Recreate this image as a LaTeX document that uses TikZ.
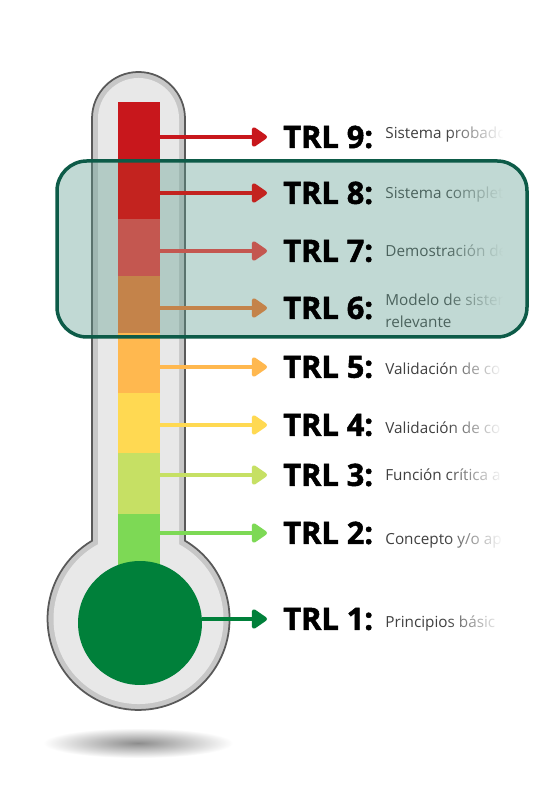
\documentclass[tikz,border=0pt]{standalone}
\usepackage{fontspec}
\setmainfont{Open Sans}
\newfontfamily\gruesa[BoldFeatures={FakeBold=1.6}]{Open Sans}
\usepackage{xcolor}
\usetikzlibrary{arrows.meta, fadings}

\definecolor{trlnueve}{HTML}{C8171C}
\definecolor{trlocho}{HTML}{C3231F}
\definecolor{trlsiete}{HTML}{C45750}
\definecolor{trlseis}{HTML}{C4834A}
\definecolor{trlcinco}{HTML}{FFB84F}
\definecolor{trlcuatro}{HTML}{FFD952}
\definecolor{trltres}{HTML}{C6E064}
\definecolor{trldos}{HTML}{7DD955}
\definecolor{trluno}{HTML}{00803A}
\definecolor{marco}{HTML}{0D5B48}
\definecolor{velo}{HTML}{5E9C8E}
\definecolor{gristexto}{HTML}{404040}

\tikzfading[name=desvanecer, left color=transparent!100, right color=transparent!0]

\begin{document}
\begin{tikzpicture}[
	x=0.02cm, y=0.02cm,
	segmento/.style={rectangle, inner sep=0pt, minimum width=0.84cm},
	flecha/.style={line width=0.09cm, -{Triangle[length=0.34cm, width=0.44cm, round]},
		shorten >=0.32cm},
	nivel/.style={anchor=west, inner sep=0pt, font=\fontsize{17.5}{20}\selectfont\gruesa\bfseries},
	texto/.style={anchor=base west, inner sep=0pt, text=gristexto, align=left,
		font=\fontsize{8.7}{13}\selectfont}
]
	% Fondo
	\fill[white] (0,0) rectangle (533,786);
	\useasboundingbox (0,0) rectangle (533,786);
	% Sombra
	\shade[inner color=black!45, outer color=white] (138,43) ellipse [x radius=95, y radius=15];
	% Tubo
	\filldraw[
		fill=black!22,
		draw=black!65,
		line width=0.035cm
	] (92,667.5) arc[start angle=180, end angle=0, radius=46.5] -- (185,245.3)
		arc[start angle=59.3, end angle=-239.3, radius=91] -- cycle;
	\fill[
		black!9
	] (98,667.5) arc[start angle=180, end angle=0, radius=40.5] -- (179,241.7)
		arc[start angle=61.55, end angle=-241.55, radius=85] -- cycle;

	% Descripciones
	\node[texto] (d9) at (385,647) {Sistema probado};
	\node[texto] (d8) at (385,587) {Sistema completo};
	\node[texto] (d7) at (385,529) {Demostración de};
	\node[texto] (d6) at (385,458) {Modelo de sistema\\relevante};
	\node[texto] (d5) at (385,411) {Validación de co};
	\node[texto] (d4) at (385,352) {Validación de co};
	\node[texto] (d3) at (385,305) {Función crítica a};
	\node[texto] (d2) at (385,241) {Concepto y/o ap};
	\node[texto] (d1) at (385,158) {Principios básic};
	%  Corte
	\fill[white, path fading=desvanecer] (445,140) rectangle (503,670);
	\fill[white] (503,140) rectangle (533,670);

	% Recuadro
	\fill[
		velo,
		opacity=0.38,
		rounded corners=0.6cm
	] (57,449) rectangle (527,625);

	% Columna
	\node[segmento, fill=trldos,    minimum height=1.02cm] (seg2) at (139,246.5) {};
	\node[segmento, fill=trltres,   minimum height=1.22cm] (seg3) at (139,302.5) {};
	\node[segmento, fill=trlcuatro, minimum height=1.2cm]  (seg4) at (139,363) {};
	\node[segmento, fill=trlcinco,  minimum height=1.2cm]  (seg5) at (139,423) {};
	\node[segmento, fill=trlseis,   minimum height=1.14cm] (seg6) at (139,481.5) {};
	\node[segmento, fill=trlsiete,  minimum height=1.14cm] (seg7) at (139,538.5) {};
	\node[segmento, fill=trlocho,   minimum height=1.18cm] (seg8) at (139,596.5) {};
	\node[segmento, fill=trlnueve,  minimum height=1.16cm] (seg9) at (139,655) {};
	% Bulbo
	\node[
		circle,
		fill=trluno,
		inner sep=0pt,
		minimum size=2.48cm
	] (bulbo) at (140,163) {};

	% Niveles
	\node[nivel] (trl9) at (283,649) {TRL 9:};
	\node[nivel] (trl8) at (283,593) {TRL 8:};
	\node[nivel] (trl7) at (283,535) {TRL 7:};
	\node[nivel] (trl6) at (283,478) {TRL 6:};
	\node[nivel] (trl5) at (283,419) {TRL 5:};
	\node[nivel] (trl4) at (283,361) {TRL 4:};
	\node[nivel] (trl3) at (283,311) {TRL 3:};
	\node[nivel] (trl2) at (283,253) {TRL 2:};
	\node[nivel] (trl1) at (283,167) {TRL 1:};
	%  Flechas
	\draw[flecha, trlnueve]  (seg9.east |- trl9.west) -- (trl9.west);
	\draw[flecha, trlocho]   (seg8.east |- trl8.west) -- (trl8.west);
	\draw[flecha, trlsiete]  (seg7.east |- trl7.west) -- (trl7.west);
	\draw[flecha, trlseis]   (seg6.east |- trl6.west) -- (trl6.west);
	\draw[flecha, trlcinco]  (seg5.east |- trl5.west) -- (trl5.west);
	\draw[flecha, trlcuatro] (seg4.east |- trl4.west) -- (trl4.west);
	\draw[flecha, trltres]   (seg3.east |- trl3.west) -- (trl3.west);
	\draw[flecha, trldos]    (seg2.east |- trl2.west) -- (trl2.west);
	\draw[flecha, trluno]    (bulbo.east |- trl1.west) -- (trl1.west);

	% Marco del recuadro
	\draw[
		marco,
		line width=0.07cm,
		rounded corners=0.6cm
	] (57,449) rectangle (527,625);
\end{tikzpicture}
\end{document}
